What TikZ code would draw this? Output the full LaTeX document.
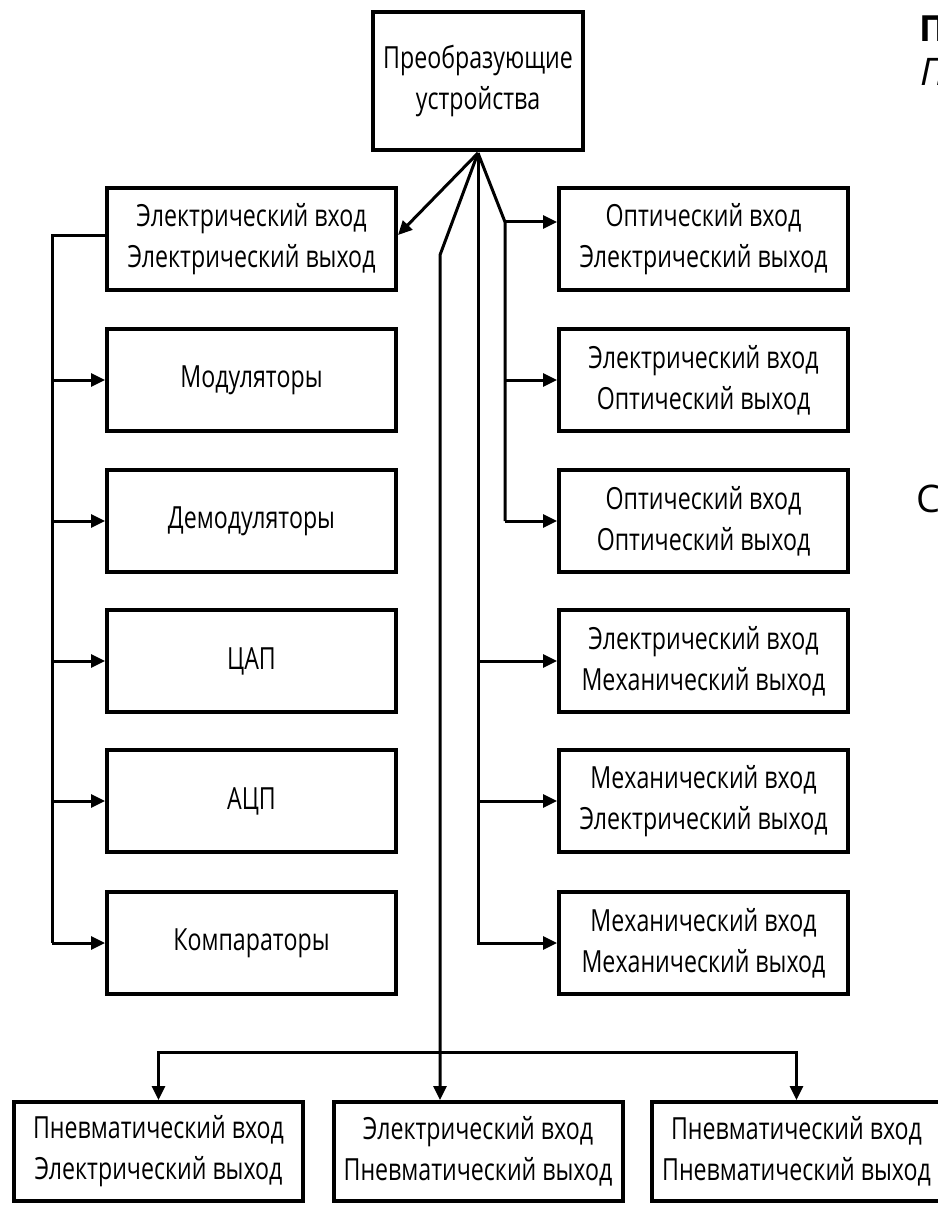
\documentclass[tikz,border=0pt]{standalone}
\usepackage{fontspec}
\setmainfont{Open Sans}[FakeStretch=0.76]
\newfontfamily\widefont{Open Sans}
\usetikzlibrary{arrows.meta}
\begin{document}
\begin{tikzpicture}[x=1pt,y=-1pt,
  box/.style={draw, line width=4pt, minimum width=289pt, minimum height=102pt,
    align=center, inner sep=0pt, font=\fontsize{30.5}{41}\selectfont},
  conn/.style={line width=3pt},
  arr/.style={conn, -{Triangle[length=14pt,width=13pt]}},
  frag/.style={anchor=base west, inner sep=0pt}]
\useasboundingbox (0,0) rectangle (937,1206);
\fill[white] (0,0) rectangle (937,1206);

% top
\node[box, minimum width=210pt, minimum height=138pt] (top) at (478,81) {Преобразующие\\устройства};

% left column
\node[box] (L1) at (251.5,239) {Электрический вход\\Электрический выход};
\node[box] (L2) at (251.5,380) {Модуляторы};
\node[box] (L3) at (251.5,521) {Демодуляторы};
\node[box] (L4) at (251.5,661) {ЦАП};
\node[box] (L5) at (251.5,801) {АЦП};
\node[box] (L6) at (251.5,943) {Компараторы};

% right column
\node[box] (R1) at (703.5,239) {Оптический вход\\Электрический выход};
\node[box] (R2) at (703.5,380) {Электрический вход\\Оптический выход};
\node[box] (R3) at (703.5,521) {Оптический вход\\Оптический выход};
\node[box] (R4) at (703.5,661) {Электрический вход\\Механический выход};
\node[box] (R5) at (703.5,801) {Механический вход\\Электрический выход};
\node[box] (R6) at (703.5,943) {Механический вход\\Механический выход};

% bottom row
\node[box, minimum height=99pt] (B1) at (158.5,1151.5) {Пневматический вход\\Электрический выход};
\node[box, minimum height=99pt] (B2) at (478,1151.5) {Электрический вход\\Пневматический выход};
\node[box, minimum height=99pt] (B3) at (796.5,1151.5) {Пневматический вход\\Пневматический выход};

% cut-off text at right edge (as in the reference)
\node[frag, font=\widefont\fontsize{36}{36}\selectfont\bfseries] (f1) at (919,42) {П};
\node[frag, font=\widefont\fontsize{38}{38}\selectfont\itshape] (f2) at (920,86) {П};
\node[frag, font=\widefont\fontsize{38}{38}\selectfont] (f3) at (916,512) {С};

% connectors
\coordinate (hub) at (478,153);
\coordinate (bend) at (440,255);
\coordinate (rb) at (505,222);
\coordinate (lb) at (52,236);
\coordinate (bus) at (440,1052);

\draw[arr] (hub) -- ([yshift=4pt]L1.east);

\draw[arr] (hub) -- (bend) -- (bend |- B2.north);
\draw[arr] (bus) -| (B1.north);
\draw[arr] (bus) -| (B3.north);

\draw[conn] (hub) -- (rb) -- (rb |- R3.west);
\draw[arr] (rb) -- (rb -| R1.west);
\draw[arr] (rb |- R2.west) -- (R2.west);
\draw[arr] (rb |- R3.west) -- (R3.west);

\draw[arr] (hub) |- (R6.west);
\draw[arr] (hub |- R4.west) -- (R4.west);
\draw[arr] (hub |- R5.west) -- (R5.west);

\draw[conn] ([yshift=3pt]L1.west) -| (lb |- L6.west);
\draw[arr] (lb |- L2.west) -- (L2.west);
\draw[arr] (lb |- L3.west) -- (L3.west);
\draw[arr] (lb |- L4.west) -- (L4.west);
\draw[arr] (lb |- L5.west) -- (L5.west);
\draw[arr] (lb |- L6.west) -- (L6.west);
\end{tikzpicture}
\end{document}
